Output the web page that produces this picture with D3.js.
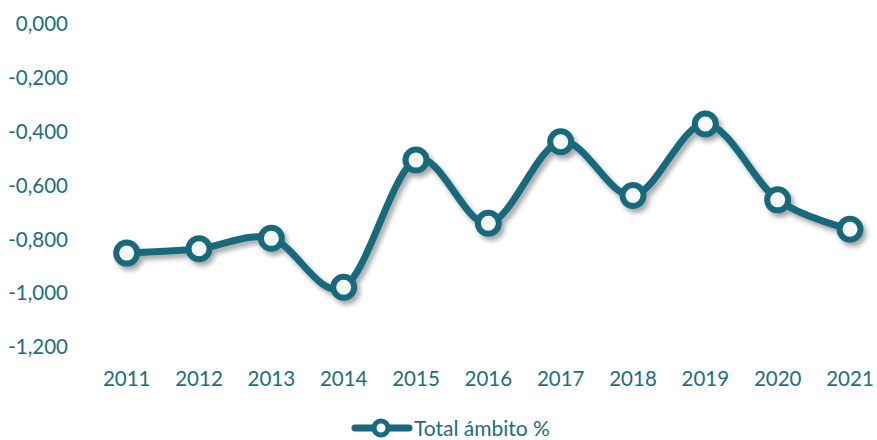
<!DOCTYPE html>
<html>
<head>
<meta charset="utf-8">
<script src="https://cdn.jsdelivr.net/npm/d3@7"></script>
<style>
  html, body { margin: 0; padding: 0; background: #fff; }
  svg { display: block; font-family: Lato, "Open Sans", sans-serif; }
</style>
</head>
<body>
<div id="chart"></div>
<script>
/* Total ámbito % — smoothed line 2011–2021 */
const years = ["2011", "2012", "2013", "2014", "2015", "2016", "2017", "2018", "2019", "2020", "2021"];
const values = [-0.852, -0.836, -0.797, -0.979, -0.506, -0.741, -0.438, -0.638, -0.372, -0.654, -0.763];
const yTicks = [0, -0.2, -0.4, -0.6, -0.8, -1.0, -1.2];
const seriesName = "Total ámbito %";

const W = 877, Ht = 440;
const teal = "#176a7b", txt = "#1d6e80";
const svg = d3.select("#chart").append("svg").attr("width", W).attr("height", Ht);

const defs = svg.append("defs");
const f = defs.append("filter").attr("id", "shadow")
  .attr("x", "-10%").attr("y", "-10%").attr("width", "120%").attr("height", "130%");
f.append("feDropShadow").attr("dx", 3).attr("dy", 4).attr("stdDeviation", 2.5)
  .attr("flood-color", "#000").attr("flood-opacity", 0.35);

const x = d3.scalePoint().domain(years).range([126.7, 850]);
const y = d3.scaleLinear().domain([-1.2, 0]).range([346.7, 24]);
const fmt = v => d3.format(".3f")(v).replace("−", "-").replace(".", ",");

// y axis labels
svg.append("g").selectAll("text").data(yTicks).join("text")
  .attr("x", 68).attr("y", d => y(d)).attr("dy", "0.36em")
  .attr("text-anchor", "end").attr("fill", txt).style("font-size", "20.5px")
  .text(fmt);

// x axis labels
svg.append("g").selectAll("text").data(years).join("text")
  .attr("x", d => x(d)).attr("y", 379).attr("dy", "0.36em")
  .attr("text-anchor", "middle").attr("fill", txt).style("font-size", "20.5px")
  .text(d => d);

const pts = years.map((yr, i) => ({ yr, v: values[i] }));
const line = d3.line().x(d => x(d.yr)).y(d => y(d.v)).curve(d3.curveCardinal.tension(0));

const g = svg.append("g").attr("filter", "url(#shadow)");
g.append("path").datum(pts).attr("d", line)
  .attr("fill", "none").attr("stroke", teal).attr("stroke-width", 7)
  .attr("stroke-linecap", "round").attr("stroke-linejoin", "round");
g.selectAll("circle").data(pts).join("circle")
  .attr("cx", d => x(d.yr)).attr("cy", d => y(d.v)).attr("r", 10.5)
  .attr("fill", "#f7f9fa").attr("stroke", teal).attr("stroke-width", 6);

// legend
const lg = svg.append("g").attr("transform", "translate(0,428)");
lg.append("line").attr("x1", 355).attr("x2", 409).attr("y1", 0).attr("y2", 0)
  .attr("stroke", teal).attr("stroke-width", 7).attr("stroke-linecap", "round");
lg.append("circle").attr("cx", 381).attr("cy", 0).attr("r", 7)
  .attr("fill", "#f7f9fa").attr("stroke", teal).attr("stroke-width", 5);
lg.append("text").attr("x", 414).attr("y", 0).attr("dy", "0.36em")
  .attr("fill", txt).style("font-size", "21px").text(seriesName);
</script>
</body>
</html>
